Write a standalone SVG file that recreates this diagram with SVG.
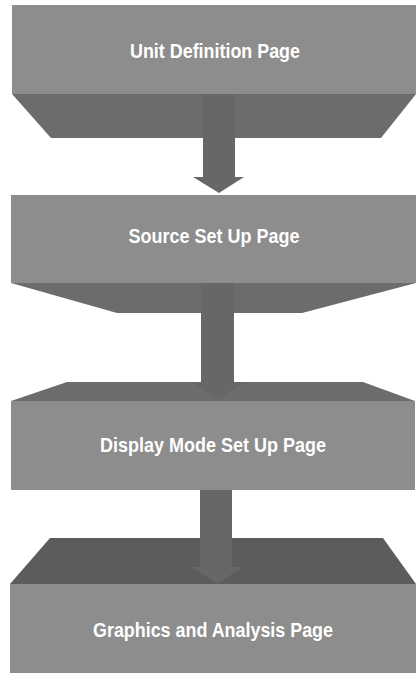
<svg xmlns="http://www.w3.org/2000/svg" width="419" height="675" viewBox="0 0 419 675">
<style>
.face{fill:#8d8d8d}
.bevel{fill:#6c6c6c}
.dark{fill:#5c5c5c}
.arrow{fill:#676767}
.lbl{font-family:"Liberation Sans",Arial,sans-serif;font-weight:bold;font-size:21px;fill:#ffffff;text-anchor:middle}
</style>
<rect width="419" height="675" fill="#ffffff"/>
<g id="node1">
<polygon class="bevel" points="12,94 416,94 381,138 51,138"/>
<rect class="face" x="12" y="5" width="404" height="89"/>
<text class="lbl" x="215" y="58" textLength="170" lengthAdjust="spacingAndGlyphs">Unit Definition Page</text>
</g>
<g id="node2">
<polygon class="bevel" points="11,283 416,283 302,313 117,313"/>
<rect class="face" x="11" y="195" width="405" height="88"/>
<text class="lbl" x="214" y="243" textLength="171" lengthAdjust="spacingAndGlyphs">Source Set Up Page</text>
</g>
<g id="node3">
<polygon class="bevel" points="67,382 363,382 415,401 11,401"/>
<rect class="face" x="11" y="401" width="404" height="89"/>
<text class="lbl" x="213" y="452" textLength="226" lengthAdjust="spacingAndGlyphs">Display Mode Set Up Page</text>
</g>
<g id="node4">
<polygon class="dark" points="50,538 383,538 416,584 10,584"/>
<rect class="face" x="10" y="584" width="406" height="89"/>
<text class="lbl" x="213" y="637" textLength="240" lengthAdjust="spacingAndGlyphs">Graphics and Analysis Page</text>
</g>
<g id="connectors">
<polygon class="arrow" points="203,94 235,94 235,177 244,177 219,193 193,177 203,177"/>
<polygon class="arrow" points="201,283 234,283 234,383 243,383 218,399 193,383 201,383"/>
<polygon class="arrow" points="200,490 232,490 232,567 243,567 217,584 192,567 200,567"/>
</g>
</svg>
